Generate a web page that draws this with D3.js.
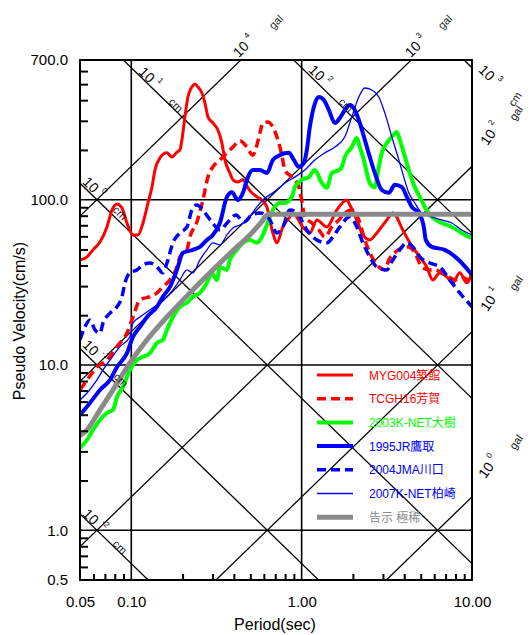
<!DOCTYPE html>
<html>
<head>
<meta charset="utf-8">
<script src="https://cdn.jsdelivr.net/npm/d3@7/dist/d3.min.js"></script>
<style>
  body { margin:0; background:#fff; }
  svg { display:block; }
</style>
</head>
<body>
<div id="chart-area"></div>
<script>
/* Tripartite response spectrum (pseudo velocity vs period) */

// axis ticks
var periodTicks  = [0.05, 0.1, 1, 10];
var periodLabels = ["0.05", "0.10", "1.00", "10.00"];
var velTicks     = [700, 100, 10, 1, 0.5];
var velLabels    = ["700.0", "100.0", "10.0", "1.0", "0.5"];
var periodMinor  = [0.06,0.07,0.08,0.09, 0.2,0.3,0.4,0.5,0.6,0.7,0.8,0.9, 2,3,4,5,6,7,8,9];
var velMinor     = [0.6,0.7,0.8,0.9, 2,3,4,5,6,7,8,9, 20,30,40,50,60,70,80,90, 200,300,400,500,600];
var periodGrid   = [0.1, 1];
var velGrid      = [1, 10, 100];

// diagonal guide lines
var dispLevels = [0.01, 0.1, 1, 10, 100, 1000];   // displacement (cm)
var accLevels  = [1, 10, 100, 1000, 10000];       // acceleration (gal)

// legend names
var seriesNames = ["MYG004築館", "TCGH16芳賀", "2003K-NET大樹", "1995JR鷹取", "2004JMA川口", "2007K-NET柏崎", "告示 極稀"];

// series values: [period (s), pseudo velocity (cm/s)]
var myg004 = [[0.05,43.2],[0.055,45.1],[0.0596,49.7],[0.0655,55.5],[0.072,68.4],[0.0771,86.7],[0.0824,94.2],[0.0882,89.1],[0.0943,72.3],[0.1023,61.2],[0.1094,61.2],[0.1172,72.3],[0.1253,95.5],[0.1322,119],[0.1377,151],[0.1473,179],[0.1619,192],[0.1732,181],[0.1853,194],[0.193,200],[0.1983,230],[0.2065,317],[0.215,418],[0.2269,481],[0.2363,501],[0.2461,481],[0.2598,442],[0.2706,385],[0.2818,317],[0.3014,291],[0.3225,264],[0.3404,220],[0.3545,174],[0.3792,145],[0.3949,132],[0.4225,128],[0.4521,132],[0.4837,118],[0.5104,110],[0.5461,104],[0.5843,99.6],[0.6251,90.4],[0.6778,62.9],[0.7155,54.8],[0.776,68.4],[0.8528,78.7],[0.8881,83.2],[1.016,68.4],[1.117,62.9],[1.228,75.4],[1.406,68.4],[1.609,86.7],[1.842,99.6],[1.918,92.9],[2.108,75.4],[2.287,61.2],[2.513,57.1],[2.762,62.9],[3.162,75.4],[3.429,83.2],[3.925,65.6],[4.314,54.8],[4.938,45.1],[5.428,39.2],[5.886,32.7],[6.47,36.1],[7.112,34.1],[7.713,31.4],[8.477,36.1],[9.318,31.4],[10,36.6]];

var tcgh16 = [[0.05,7.06],[0.055,8.12],[0.0629,9.71],[0.072,10.7],[0.0824,12.9],[0.0943,15.6],[0.1023,19.5],[0.1125,24.8],[0.1287,25.9],[0.1415,27.3],[0.1534,29.7],[0.1686,32.7],[0.1853,39.2],[0.193,45.1],[0.2122,49.7],[0.2209,59.5],[0.2428,73.3],[0.2634,99.6],[0.2818,137],[0.3014,158],[0.3313,174],[0.3642,192],[0.3949,208],[0.4341,227],[0.4772,208],[0.5174,186],[0.5461,214],[0.5687,253],[0.5922,291],[0.6336,295],[0.6778,275],[0.7252,230],[0.7655,186],[0.7972,151],[0.8762,137],[0.9631,119],[1.0,99.6],[1.044,78.7],[1.148,72.3],[1.261,65.6],[1.368,59.5],[1.504,68.4],[1.653,75.4],[1.793,83.2],[1.971,86.7],[2.166,75.4],[2.349,57.1],[2.582,45.1],[2.838,39.2],[3.078,37.6],[3.249,43.2],[3.523,47.7],[3.872,51.1],[4.256,51.8],[4.616,47.7],[5.073,39.2],[5.577,37.6],[6.047,37.6],[6.647,36.1],[7.307,34.1],[7.924,32.7],[8.709,34.1],[9.573,32.7],[10,32.7]];

var knet2003 = [[0.05,3.15],[0.055,3.52],[0.0596,4.05],[0.0655,4.65],[0.072,5.13],[0.0781,5.35],[0.0824,6.4],[0.0894,7.37],[0.0982,9.33],[0.1079,10.7],[0.1172,11.2],[0.1287,11.8],[0.1415,13.6],[0.1534,14.2],[0.1619,16.3],[0.1756,19.5],[0.193,22.5],[0.2122,23.8],[0.23,25.9],[0.2529,27.3],[0.278,31.4],[0.2973,36.1],[0.3181,32.7],[0.3313,39.2],[0.3642,37.6],[0.3792,43.2],[0.4168,49.7],[0.4521,54.8],[0.4968,57.1],[0.5461,54.8],[0.5843,59.5],[0.6251,70.3],[0.6778,86.7],[0.7451,95.5],[0.7972,95.5],[0.8762,104],[0.9124,119],[1.0,132],[1.102,137],[1.195,151],[1.314,126],[1.406,118],[1.504,145],[1.653,151],[1.722,158],[1.793,181],[1.971,208],[2.108,236],[2.196,208],[2.318,174],[2.414,145],[2.513,126],[2.689,119],[2.838,158],[2.956,192],[3.162,220],[3.383,240],[3.62,257],[3.769,230],[3.978,192],[4.256,151],[4.616,119],[4.938,104],[5.283,90.4],[5.807,78.7],[6.647,72.3],[7.609,68.4],[8.709,62.9],[9.573,59.5],[10,58.7]];

var jr1995 = [[0.05,4.99],[0.0572,5.89],[0.0655,7.06],[0.075,8.12],[0.0824,9.71],[0.0943,11.8],[0.1023,14.8],[0.1125,17.0],[0.1237,19.5],[0.1415,22.5],[0.1534,25.9],[0.1686,29.7],[0.1853,37.6],[0.201,47.7],[0.23,49.7],[0.2529,51.8],[0.278,57.1],[0.3014,61.2],[0.3313,72.3],[0.3642,104],[0.3896,111],[0.4225,99.6],[0.4521,110],[0.4837,137],[0.5174,151],[0.5687,151],[0.6251,145],[0.6778,174],[0.7451,186],[0.8414,192],[0.9001,174],[0.9631,158],[1.03,167],[1.073,200],[1.117,275],[1.179,364],[1.261,418],[1.35,401],[1.444,349],[1.566,291],[1.676,312],[1.793,349],[1.918,374],[2.052,349],[2.196,291],[2.349,230],[2.513,181],[2.689,145],[2.956,114.5],[3.249,110],[3.523,123],[3.872,119],[4.143,104],[4.432,90.4],[4.872,83.2],[5.212,68.4],[5.355,57.1],[5.807,51.8],[6.922,49.7],[8.364,43.2],[10,35.1]];

var jma2004 = [[0.05,14.2],[0.0535,17.0],[0.0572,18.7],[0.0612,16.3],[0.0655,15.6],[0.0682,17.9],[0.075,20.6],[0.0824,22.5],[0.0882,25.9],[0.0918,31.4],[0.0982,36.1],[0.1079,37.6],[0.1172,40.3],[0.1287,41.4],[0.1415,39.2],[0.1534,36.1],[0.1619,41.4],[0.1756,54.8],[0.193,62.9],[0.2122,68.4],[0.2269,86.7],[0.2428,92.9],[0.2706,83.2],[0.2973,73.3],[0.3313,65.6],[0.3691,73.3],[0.4112,80.9],[0.4582,73.3],[0.5104,80.9],[0.5687,83.2],[0.6509,75.4],[0.7155,62.9],[0.776,68.4],[0.8528,86.7],[0.9374,83.2],[1.073,65.6],[1.228,57.1],[1.406,54.8],[1.525,59.5],[1.676,68.4],[1.918,78.7],[2.108,68.4],[2.287,54.8],[2.513,45.1],[2.762,39.2],[3.162,37.6],[3.429,43.2],[3.769,49.7],[4.143,54.8],[4.493,51.8],[4.938,45.1],[5.652,41.4],[6.47,39.2],[7.406,32.7],[8.477,27.3],[10,22.5]];

var knet2007 = [[0.05,6.14],[0.055,6.77],[0.0629,8.12],[0.0682,9.33],[0.075,10.7],[0.0858,12.9],[0.0982,14.8],[0.1023,17.9],[0.1125,19.5],[0.1287,21.5],[0.1473,23.8],[0.1619,25.9],[0.1756,28.5],[0.193,32.7],[0.2122,37.6],[0.23,36.1],[0.2529,43.2],[0.278,49.7],[0.3014,54.8],[0.3313,53.3],[0.3642,61.2],[0.3949,67.5],[0.4341,70.3],[0.4772,75.4],[0.5461,90.4],[0.5922,99.6],[0.6778,110],[0.7451,119],[0.7972,126],[0.9124,137],[1.044,151],[1.195,174],[1.368,192],[1.566,208],[1.793,240],[1.971,317],[2.166,418],[2.349,474],[2.582,461],[2.838,418],[3.078,335],[3.383,240],[3.719,174],[3.978,137],[4.256,110],[4.616,95.5],[5.073,83.2],[5.807,78.7],[6.647,75.4],[7.609,72.3],[8.709,65.6],[10,61.2]];

var kokuji = [[0.05,3.73],[0.055,4.05],[0.0655,5.35],[0.0781,7.06],[0.0982,10.3],[0.1237,14.2],[0.1619,19.5],[0.2209,27.3],[0.3014,37.6],[0.4168,51.8],[0.4968,61.2],[0.5687,71.3],[0.64,81.5],[10,81.5]];

var seriesData = [myg004, tcgh16, knet2003, jr1995, jma2004, knet2007, kokuji];

/* line styles, same order as seriesNames */
var seriesStyle = [
  { color:"#ff0000", width:3,   dash:null },
  { color:"#ff0000", width:3.5, dash:"9,5" },
  { color:"#00ff00", width:4,   dash:null },
  { color:"#0000ff", width:4,   dash:null },
  { color:"#0000ff", width:3.5, dash:"9,5" },
  { color:"#0000ff", width:1.3, dash:null },
  { color:"#8a8a8a", width:5,   dash:null }
];

/* margin convention */
var margin = { top:60, right:60, bottom:55, left:80 };
var width = 532 - margin.left - margin.right;
var height = 635 - margin.top - margin.bottom;
var fontFam = "'Liberation Sans', Arial, 'Noto Sans CJK JP', sans-serif";

var svg = d3.select("#chart-area").append("svg")
  .attr("width", width + margin.left + margin.right)
  .attr("height", height + margin.top + margin.bottom)
  .style("font-family", fontFam);

var g = svg.append("g")
  .attr("transform", "translate(" + margin.left + "," + margin.top + ")");

// scales
var x = d3.scaleLog().domain([0.05, 10]).range([0, width]);
var y = d3.scaleLog().domain([0.5, 700]).range([height, 0]);

g.append("clipPath").attr("id", "plot-clip")
  .append("rect").attr("width", width).attr("height", height);

var plot = g.append("g").attr("clip-path", "url(#plot-clip)");

var line = d3.line()
  .x(function(d){ return x(d[0]); })
  .y(function(d){ return y(d[1]); });

// displacement lines  Sv = 2*pi*D/T
dispLevels.forEach(function(D){
  plot.append("path")
    .attr("d", line([0.05, 10].map(function(T){ return [T, 2*Math.PI*D/T]; })))
    .attr("fill", "none").attr("stroke", "#000").attr("stroke-width", 1.3);
});
// acceleration lines  Sv = A*T/(2*pi)
accLevels.forEach(function(A){
  plot.append("path")
    .attr("d", line([0.05, 10].map(function(T){ return [T, A*T/(2*Math.PI)]; })))
    .attr("fill", "none").attr("stroke", "#000").attr("stroke-width", 1.3);
});

// grid
plot.selectAll(".vgrid").data(periodGrid).enter().append("line")
  .attr("x1", x).attr("x2", x).attr("y1", 0).attr("y2", height)
  .attr("stroke", "#000").attr("stroke-width", 1.6);
plot.selectAll(".hgrid").data(velGrid).enter().append("line")
  .attr("y1", y).attr("y2", y).attr("x1", 0).attr("x2", width)
  .attr("stroke", "#000").attr("stroke-width", 1.6);

// spectra
var lineSmooth = d3.line()
  .x(function(d){ return x(d[0]); })
  .y(function(d){ return y(d[1]); })
  .curve(d3.curveMonotoneX);

seriesData.forEach(function(data, i){
  var s = seriesStyle[i];
  plot.append("path")
    .attr("d", lineSmooth(data))
    .attr("fill", "none")
    .attr("stroke", s.color)
    .attr("stroke-width", s.width)
    .attr("stroke-dasharray", s.dash)
    .attr("stroke-linejoin", "round");
});

// frame
g.append("rect").attr("width", width).attr("height", height)
  .attr("fill", "none").attr("stroke", "#000").attr("stroke-width", 2);

// inward minor ticks
var yMinor = g.append("g").call(d3.axisLeft(y).tickValues(velMinor).tickSize(-8).tickFormat(""));
yMinor.select(".domain").remove();
yMinor.selectAll("line").attr("stroke-width", 2);
var xMinor = g.append("g").attr("transform", "translate(0," + height + ")")
  .call(d3.axisBottom(x).tickValues(periodMinor).tickSize(-6).tickFormat(""));
xMinor.select(".domain").remove();
xMinor.selectAll("line").attr("stroke-width", 2);

// tick labels
var yLab = g.append("g").call(d3.axisLeft(y).tickValues(velTicks).tickSize(0).tickPadding(12)
  .tickFormat(function(d, i){ return velLabels[i]; }));
yLab.select(".domain").remove();
yLab.selectAll("text").attr("font-size", 15).attr("font-family", fontFam).attr("fill", "#000");

var xLab = g.append("g").attr("transform", "translate(0," + height + ")")
  .call(d3.axisBottom(x).tickValues(periodTicks).tickSize(0).tickPadding(16)
  .tickFormat(function(d, i){ return periodLabels[i]; }));
xLab.select(".domain").remove();
xLab.selectAll("text").attr("font-size", 15).attr("font-family", fontFam).attr("fill", "#000");

// axis titles
svg.append("text")
  .attr("x", 275).attr("y", 630)
  .attr("text-anchor", "middle").attr("font-size", 16)
  .text("Period(sec)");
svg.append("text")
  .attr("transform", "translate(25,321) rotate(-90)")
  .attr("text-anchor", "middle").attr("font-size", 16)
  .text("Pseudo Velocity(cm/s)");

/* labels for guide lines (placed in svg coords) */
var dispLabelPos = [
  { x:91, y:517, ux:120, uy:547, ur:45 },
  { x:91, y:348, ux:121, uy:380, ur:45 },
  { x:91, y:185, ux:120, uy:213, ur:45 },
  { x:147, y:75, ux:176, uy:105, ur:45 },
  { x:317, y:73, ux:346, uy:105, ur:45 },
  { x:487, y:73, ux:515, uy:99, ur:-55 }
];
var accLabelPos = [
  { x:486, y:470, r:-55, ux:516, uy:442 },
  { x:488, y:303, r:-55, ux:516, uy:283 },
  { x:488, y:137, r:-55, ux:516, uy:113 },
  { x:413, y:49, r:-45, ux:445, uy:22 },
  { x:241, y:49, r:-45, ux:276, uy:22 }
];

function powerLabel(px, py, rot, exp){
  var t = svg.append("g")
    .attr("transform", "translate(" + px + "," + py + ") rotate(" + rot + ")")
    .append("text").attr("x", -8).attr("dy", "0.35em")
    .attr("font-size", 14).attr("fill", "#000");
  t.append("tspan").text("10");
  t.append("tspan").attr("dx", 4).attr("dy", -8).attr("font-size", 8).text(exp);
}
function unitLabel(px, py, rot, txt){
  svg.append("text")
    .attr("transform", "translate(" + px + "," + py + ") rotate(" + rot + ")")
    .attr("text-anchor", "middle").attr("dy", "0.35em")
    .attr("font-size", 11).attr("fill", "#1a1a1a")
    .text(txt);
}

dispLevels.forEach(function(D, i){
  var p = dispLabelPos[i];
  powerLabel(p.x, p.y, 45, String(Math.round(Math.log10(D))));
  unitLabel(p.ux, p.uy, p.ur, "cm");
});
accLevels.forEach(function(A, i){
  var p = accLabelPos[i];
  powerLabel(p.x, p.y, p.r, String(Math.round(Math.log10(A))));
  unitLabel(p.ux, p.uy, p.r, "gal");
});

// legend
var legend = svg.append("g").attr("transform", "translate(317,375)");
seriesNames.forEach(function(name, i){
  var s = seriesStyle[i];
  var row = legend.append("g").attr("transform", "translate(0," + (i * 23.7) + ")");
  row.append("line")
    .attr("x1", 0).attr("x2", 36)
    .attr("stroke", s.color)
    .attr("stroke-width", s.width)
    .attr("stroke-dasharray", s.dash);
  row.append("text")
    .attr("x", 52).attr("dy", "0.38em")
    .attr("font-size", 12)
    .attr("fill", s.color)
    .text(name);
});
</script>
</body>
</html>
